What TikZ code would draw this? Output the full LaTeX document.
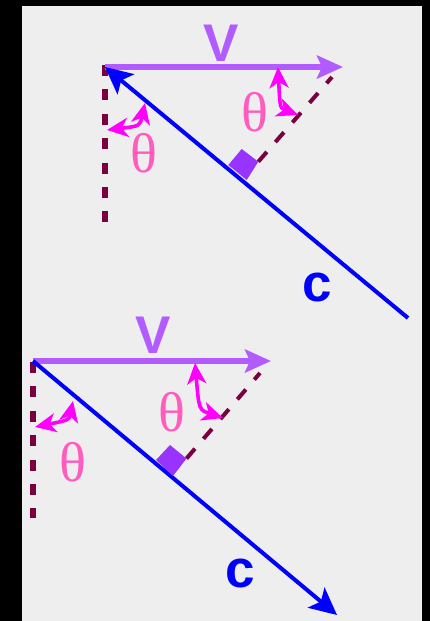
\documentclass[tikz,border=0pt]{standalone}
\usepackage{fontspec}
\setmainfont{Liberation Serif}
\newfontfamily\labelfont{Liberation Sans}
\usetikzlibrary{arrows.meta}
\definecolor{panel}{HTML}{EEEEEE}
\definecolor{vpurple}{HTML}{B25BFF}
\definecolor{cblue}{HTML}{0000FF}
\definecolor{angmag}{HTML}{FF00FF}
\definecolor{thpink}{HTML}{FF5CBE}
\definecolor{maroon}{HTML}{7A0040}
\definecolor{sqpurple}{HTML}{9933FF}

\begin{document}
\begin{tikzpicture}[x=1pt, y=-1pt,
  vvec/.style={vpurple, line width=5.5pt, -{Stealth[length=26pt, width=23pt, inset=5pt]}},
  cvec/.style={cblue, line width=4pt, -{Stealth[length=27pt, width=26pt, inset=6pt]}},
  vertdash/.style={maroon, line width=6pt, dash pattern=on 11pt off 13.4pt},
  perpdash/.style={maroon, line width=4pt, dash pattern=on 13pt off 13pt},
  angarrow/.style={angmag, line width=3.6pt, {Stealth[length=21pt, width=19pt, inset=6pt]}-{Stealth[length=21pt, width=19pt, inset=6pt]}},
  rightsq/.style={fill=sqpurple},
  veclabel/.style={font=\labelfont\bfseries\fontsize{53}{53}\selectfont, inner sep=0pt},
  thlabel/.style={font=\fontsize{56}{56}\selectfont, text=thpink, inner sep=0pt}
]

% Background
\fill[black] (0,0) rectangle (430,621);
\fill[panel] (22,6) rectangle (422,621);

% Top diagram
\coordinate (o1) at (105,67);
\coordinate (v1) at (343,67);
\coordinate (c1) at (408,318);
\coordinate (d1) at (105,222);
\coordinate (sqA1) at (228.3,165);
\coordinate (sqB1) at (246.7,180);
\coordinate (sqC1) at (258.3,161.7);
\coordinate (sqD1) at (241.7,149);
\coordinate (p1) at (332,77);

\draw[vertdash] (105,65) -- (d1);
\draw[perpdash] (sqC1) -- (p1);
\draw[vvec] (o1) -- (v1);
\draw[cvec] (c1) -- (o1);
\fill[rightsq] (sqA1) -- (sqB1) -- (sqC1) -- (sqD1) -- cycle;

\draw[angarrow] (107,130) .. controls (140,126) .. (145,103);
\draw[angarrow] (278,67) .. controls (280,108) .. (298,115);

\node[veclabel, text=vpurple] (vlab1) at (221,43) {V};
\node[veclabel, text=cblue] (clab1) at (317,287) {c};
\node[thlabel] (thl1) at (144,153) {θ};
\node[thlabel] (thr1) at (255,112) {θ};

% Bottom diagram
\coordinate (o2) at (33,361);
\coordinate (v2) at (271,361);
\coordinate (c2) at (337,615);
\coordinate (d2) at (33,518);
\coordinate (sqA2) at (156,460);
\coordinate (sqB2) at (173,476);
\coordinate (sqC2) at (186.5,458.5);
\coordinate (sqD2) at (170,445);
\coordinate (p2) at (260,373);

\draw[vertdash] (33,362) -- (d2);
\draw[perpdash] (sqC2) -- (p2);
\draw[vvec] (o2) -- (v2);
\draw[cvec] (o2) -- (c2);
\fill[rightsq] (sqA2) -- (sqB2) -- (sqC2) -- (sqD2) -- cycle;

\draw[angarrow] (35,427) .. controls (69,420) .. (73,401);
\draw[angarrow] (195,363) .. controls (199,410) .. (223,418);

\node[veclabel, text=vpurple] (vlab2) at (153,335) {V};
\node[veclabel, text=cblue] (clab2) at (240,573) {c};
\node[thlabel] (thl2) at (73,462) {θ};
\node[thlabel] (thr2) at (172,412) {θ};

\end{tikzpicture}
\end{document}
